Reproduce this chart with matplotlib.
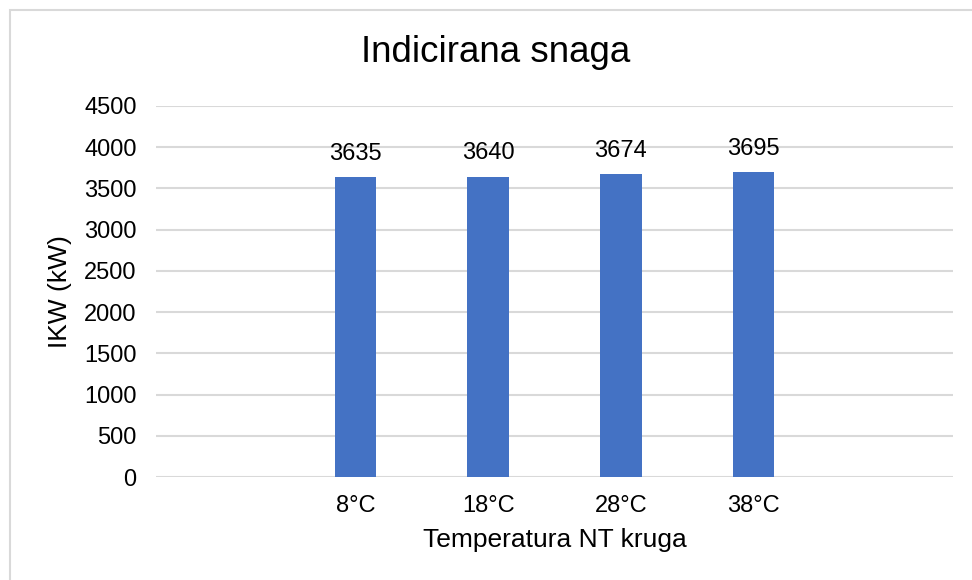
import matplotlib.pyplot as plt
from matplotlib.patches import Rectangle

# chart data (empty categories at both ends, as in the original sheet)
categories = ["", "8°C", "18°C", "28°C", "38°C", ""]
values = [None, 3635, 3640, 3674, 3695, None]
yticks = [0, 500, 1000, 1500, 2000, 2500, 3000, 3500, 4000, 4500]

plt.rcParams['font.family'] = ['Liberation Sans', 'DejaVu Sans']

W, H = 972, 580
fig = plt.figure(figsize=(W / 100, H / 100), dpi=100)
ax = fig.add_axes([156 / W, 1 - 477 / H, (953 - 156) / W, (477 - 106) / H])

xs = list(range(len(categories)))
bar_x = [x for x, v in zip(xs, values) if v is not None]
bar_v = [v for v in values if v is not None]
bars = ax.bar(bar_x, bar_v, width=0.31, color='#4472C4', zorder=3)
ax.bar_label(bars, labels=[str(v) for v in bar_v], padding=9, fontsize=17)

ax.set_xlim(-0.5, len(categories) - 0.5)
ax.set_ylim(0, 4500)
ax.set_yticks(yticks)
ax.set_xticks(xs)
ax.set_xticklabels(categories)
ax.tick_params(axis='both', length=0, labelsize=17)
ax.tick_params(axis='y', pad=14)
ax.tick_params(axis='x', pad=13)

ax.grid(axis='y', color='#d9d9d9', linewidth=1.5, zorder=0)
for s in ax.spines.values():
    s.set_visible(False)

ax.set_ylabel('IKW (kW)', fontsize=19, labelpad=9)
ax.set_xlabel('Temperatura NT kruga', fontsize=19, labelpad=8)

fig.text(496 / W, 1 - 52 / H, 'Indicirana snaga', fontsize=26.5,
         ha='center', va='center')

# chart area border (only left/top edges are visible in the crop)
fig.patches.append(Rectangle((10 / W, -0.1), 1.2, 1 - 10 / H + 0.1,
                             transform=fig.transFigure, fill=False,
                             edgecolor='#d9d9d9', linewidth=1.5))

fig.savefig('out.png', dpi=100)
